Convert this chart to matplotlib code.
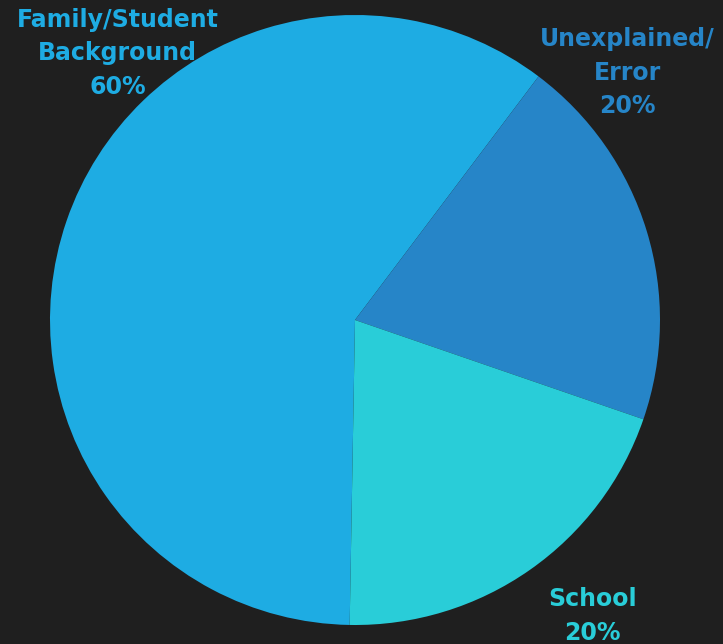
import matplotlib.pyplot as plt

# slice data, in drawing order (clockwise from the bottom)
labels = ["Family/Student\nBackground", "Unexplained/\nError", "School"]
shares = [60, 20, 20]
colors = ["#1EACE3", "#2685C8", "#29CDD8"]

BG = "#1F1F1F"
# label anchors in axes units (pie radius = 1), centred text
label_pos = [(-0.778, 0.875), (0.892, 0.81), (0.778, -0.97)]

fig = plt.figure(figsize=(7.23, 6.44), dpi=100, facecolor=BG)
ax = fig.add_axes([0, 0, 1, 1])
ax.set_facecolor(BG)

ax.pie(shares, colors=colors, startangle=-91, counterclock=False,
       radius=1.0, wedgeprops=dict(linewidth=0))

for lab, v, c, (x, y) in zip(labels, shares, colors, label_pos):
    ax.text(x, y, f"{lab}\n{v}%", ha="center", va="center", color=c,
            fontsize=17, fontweight="bold", family="DejaVu Sans",
            linespacing=1.5)

# pie centre at (355, 320) px from top-left, radius 305 px
s = 305.0
ax.set_xlim(-355 / s, (723 - 355) / s)
ax.set_ylim(-(644 - 320) / s, 320 / s)
ax.set_aspect("equal")
ax.axis("off")

fig.savefig("out.png", facecolor=BG)
